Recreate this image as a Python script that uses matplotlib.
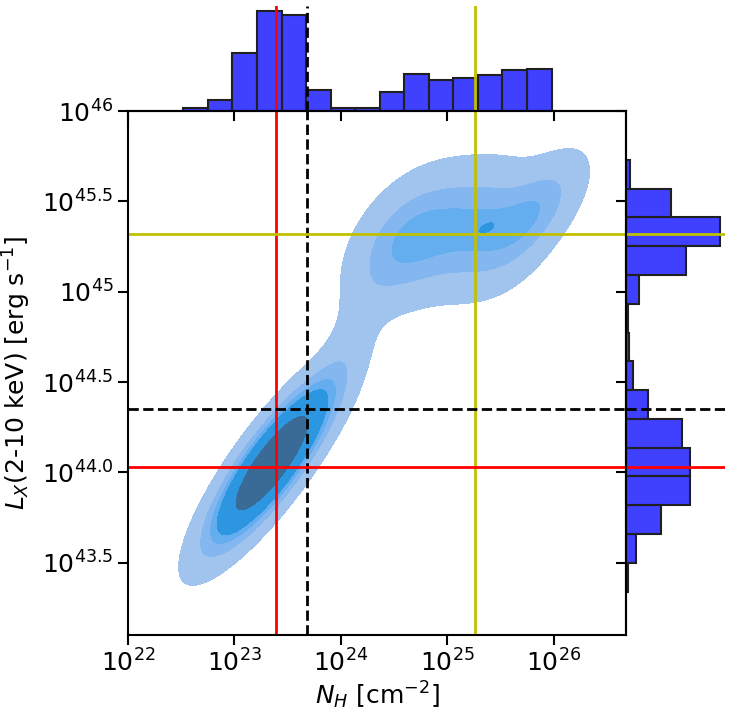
import numpy as np
import matplotlib.pyplot as plt

# marginal histograms (log10 values)
nh_range = (22.52, 25.98)
nh_counts = [1.0, 3.4, 17.2, 29.8, 28.6, 6.4, 0.9, 1.0, 5.6, 10.9, 9.1, 9.7, 10.6, 12.1, 12.4]
lx_range = (43.34, 45.73)
lx_counts = [0.6, 2.9, 10.7, 19.4, 19.4, 17.0, 6.6, 2.1, 1.0, 0.6, 3.9, 18.2, 28.5, 13.7, 1.2]

# reference lines
nh_red, nh_dash, nh_yellow = 23.39, 23.68, 25.26
lx_red, lx_dash, lx_yellow = 44.03, 44.35, 45.32

# density blobs: centre, spread, correlation, peak height
blob_x = [23.35, 24.08, 24.60, 25.00, 25.40, 25.83, 25.37]
blob_y = [44.05, 44.72, 45.27, 45.33, 45.35, 45.45, 45.355]
blob_sx = [0.33, 0.22, 0.30, 0.30, 0.30, 0.27, 0.08]
blob_sy = [0.255, 0.28, 0.205, 0.20, 0.20, 0.18, 0.035]
blob_rho = [0.85, 0.75, 0.45, 0.3, 0.25, 0.65, 0.6]
blob_peak = [1.0, 0.045, 0.20, 0.12, 0.17, 0.17, 0.06]

kde_levels = [0.03, 0.13, 0.22, 0.30, 0.60, 1.5]
kde_colors = ['#a0c4ee', '#84b6f0', '#64aef0', '#2c96e0', '#3a6a96']

x_ticks = [22, 23, 24, 25, 26]
x_labels = [r'$10^{22}$', r'$10^{23}$', r'$10^{24}$', r'$10^{25}$', r'$10^{26}$']
y_ticks = [43.5, 44.0, 44.5, 45.0, 45.5, 46.0]
y_labels = [r'$10^{43.5}$', r'$10^{44.0}$', r'$10^{44.5}$', r'$10^{45}$', r'$10^{45.5}$', r'$10^{46}$']


def density(gx, gy):
    z = np.zeros_like(gx)
    for x0, y0, sx, sy, r, p in zip(blob_x, blob_y, blob_sx, blob_sy, blob_rho, blob_peak):
        dx = (gx - x0) / sx
        dy = (gy - y0) / sy
        q = (dx ** 2 + dy ** 2 - 2 * r * dx * dy) / (1 - r ** 2)
        z += p * np.exp(-0.5 * q)
    return z


fig = plt.figure(figsize=(7.32, 7.18), dpi=100)
ax = fig.add_axes([0.1749, 0.1156, 0.6803, 0.7298])
ax_top = fig.add_axes([0.1749, 0.8454, 0.6803, 0.1462])
ax_right = fig.add_axes([0.8552, 0.1156, 0.1352, 0.7298])

gx, gy = np.meshgrid(np.linspace(21.5, 27.2, 500), np.linspace(42.8, 46.4, 500))
ax.contourf(gx, gy, density(gx, gy), levels=kde_levels, colors=kde_colors)

for a in (ax, ax_top):
    a.axvline(nh_red, color='red', lw=2)
    a.axvline(nh_dash, color='black', lw=2, ls='--')
    a.axvline(nh_yellow, color='#c0c000', lw=2)
for a in (ax, ax_right):
    a.axhline(lx_red, color='red', lw=2)
    a.axhline(lx_dash, color='black', lw=2, ls='--')
    a.axhline(lx_yellow, color='#c0c000', lw=2)

nh_edges = np.linspace(nh_range[0], nh_range[1], len(nh_counts) + 1)
lx_edges = np.linspace(lx_range[0], lx_range[1], len(lx_counts) + 1)
ax_top.bar(nh_edges[:-1], nh_counts, width=np.diff(nh_edges), align='edge',
           color=(0, 0, 1, 0.75), edgecolor='#202020', lw=1.5)
ax_right.barh(lx_edges[:-1], lx_counts, height=np.diff(lx_edges), align='edge',
              color=(0, 0, 1, 0.75), edgecolor='#202020', lw=1.5)

ax.set_xlim(22, 26.68)
ax.set_ylim(43.1, 46.0)
ax.set_xticks(x_ticks)
ax.set_xticklabels(x_labels, fontsize=18)
ax.set_yticks(y_ticks)
ax.set_yticklabels(y_labels, fontsize=18)
ax.set_xlabel(r'$N_H$ [cm$^{-2}$]', fontsize=18, labelpad=2)
ax.set_ylabel(r'$L_X$(2-10 keV) [erg s$^{-1}$]', fontsize=18, labelpad=6)
ax.tick_params(length=7, width=1.5)
for s in ax.spines.values():
    s.set_linewidth(1.5)

ax_top.set_xlim(ax.get_xlim())
ax_top.set_ylim(0, max(nh_counts) * 1.05)
ax_top.set_xticks(x_ticks)
ax_top.set_xticklabels([])
ax_top.set_yticks([])
ax_top.tick_params(length=7, width=1.5)
for k in ('top', 'left', 'right'):
    ax_top.spines[k].set_visible(False)
ax_top.spines['bottom'].set_linewidth(1.5)
ax_top.patch.set_alpha(0)

ax_right.set_ylim(ax.get_ylim())
ax_right.set_xlim(0, max(lx_counts) * 1.05)
ax_right.set_yticks(y_ticks)
ax_right.set_yticklabels([])
ax_right.set_xticks([])
ax_right.tick_params(length=7, width=1.5)
for k in ('top', 'bottom', 'right'):
    ax_right.spines[k].set_visible(False)
ax_right.spines['left'].set_linewidth(1.5)
ax_right.patch.set_alpha(0)

fig.savefig('out.png', dpi=100)
